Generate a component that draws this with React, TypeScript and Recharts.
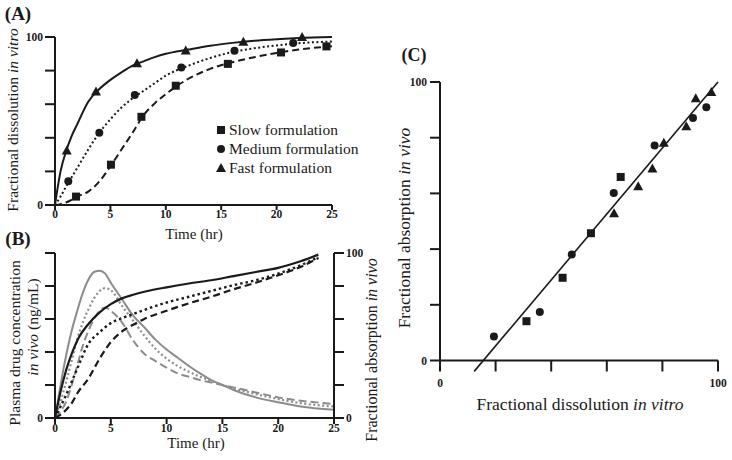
import React from 'react';
import {
  ComposedChart, ScatterChart, Line, Scatter, XAxis, YAxis, ReferenceLine,
} from 'recharts';

const SERIF = '"Liberation Serif", "Times New Roman", serif';
const INK = '#1a1a1a';
const GREY = '#8c8c8c';

// ---- panel A : in vitro dissolution ----
const A_TICKS_X = [0, 5, 10, 15, 20, 25];
const A_TICKS_Y = [0, 20, 40, 60, 80, 100];

const slowT = [1.9, 5.05, 7.8, 10.9, 15.6, 20.4, 24.5];
const slowV = [5, 24, 52.5, 71, 84, 90.8, 94.4];
const mediumT = [1.2, 4.0, 7.2, 11.4, 16.2, 21.5];
const mediumV = [14.2, 43, 65.5, 81.8, 91.8, 96.4];
const fastT = [1.06, 3.7, 7.4, 11.8, 17.0, 22.3];
const fastV = [32.5, 67.5, 84.4, 92, 97.2, 100];

const curveT_A = [0, 0.5, 1, 1.5, 2, 3, 4, 5, 6, 7, 8, 9, 10, 12, 14, 16, 18, 20, 22, 25];
const fastCurve = [0, 20, 32, 41, 48, 61.5, 69, 74.5, 79, 83, 85.5, 88, 90, 92.5, 94.8, 96.5, 97.8, 98.7, 99.4, 100];
const mediumCurve = [0, 5, 11, 16.5, 22, 33, 43, 51, 58, 63.5, 68, 72.5, 77, 82.8, 87.5, 91, 93.3, 95, 96.3, 97.3];
const slowCurve = [0, 0.5, 1.5, 3, 5, 8, 14, 23, 33, 43, 53.5, 60.5, 66, 75, 81, 85, 88, 90.5, 92.5, 94.5];

// ---- panel B : plasma concentration (grey, left) and absorption (black, right) ----
const B_TICKS_X = [0, 5, 10, 15, 20, 25];
const B_TICKS_Y = [0, 20, 40, 60, 80, 100];

const plasmaT = [0, 0.5, 1, 1.5, 2, 2.5, 3, 3.5, 4, 4.5, 5, 6, 7, 8, 9, 10, 11, 12, 13, 14, 15, 16, 18, 20, 22, 25];
const plasmaFast = [0, 20, 38, 53, 65, 76, 84, 88.5, 89.3, 87.5, 82, 72, 62, 55, 47.5, 41.5, 36.5, 31.5, 27, 23, 20, 17, 12.5, 9.5, 7, 5];
const plasmaMedium = [0, 10, 22, 35, 48, 58, 66, 72.5, 77, 78.7, 77.5, 68, 59, 50, 42, 36, 31.5, 28, 25, 22.5, 20, 18, 14.5, 11.5, 9, 7];
const plasmaSlow = [0, 4, 10, 20, 32, 44, 53, 60, 65, 67, 65, 58, 47, 39, 34.5, 30.5, 27, 25, 23, 21.5, 20, 18.5, 15.5, 12.5, 10.5, 8.5];

const absT = [0, 0.5, 1, 1.5, 2, 3, 4, 5, 6, 7, 8, 10, 12, 14, 16, 18, 20, 22, 23.6];
const absFast = [0, 16, 29, 39, 47, 57, 64, 69, 72.5, 74.7, 76.5, 79.2, 81.5, 83.5, 86, 88.5, 91, 95, 99];
const absMedium = [0, 7, 14, 22, 30, 45, 52, 57.5, 60.5, 63, 65.5, 70, 73.5, 77, 80.5, 83.5, 87.5, 92.5, 97.5];
const absSlow = [0, 2, 5, 9, 15, 24, 36, 46, 52.5, 56.5, 60, 65, 69.5, 73.5, 78, 82, 86.5, 91.5, 97];

// ---- panel C : IVIVC ----
const C_TICKS = [0, 20, 40, 60, 80, 100];
const cSlowX = [31.1, 44.1, 54.3, 65];
const cSlowY = [14.1, 29.7, 45.7, 65.9];
const cMediumX = [19.4, 35.9, 47.4, 62.5, 77.2, 91, 95.8];
const cMediumY = [8.6, 17.4, 38.1, 60.1, 77.2, 87.1, 90.9];
const cFastX = [62.6, 71.3, 76.4, 80.5, 88.6, 92, 97.6];
const cFastY = [52.9, 62.6, 68.9, 78.2, 84.1, 94.2, 96.4];
const fitStart = { x: 12.3, y: -3.9 };
const fitEnd = { x: 100, y: 100 };

const zipTV = (t: number[], v: number[]) => t.map((x, i) => ({ t: x, v: v[i] }));
const zipXY = (x: number[], y: number[]) => x.map((a, i) => ({ x: a, y: y[i] }));

const Square = (p: any) => <rect x={p.cx - 4} y={p.cy - 4} width={8} height={8} fill={INK} />;
const Dot = (p: any) => <circle cx={p.cx} cy={p.cy} r={4} fill={INK} />;
const Tri = (p: any) => (
  <path d={`M${p.cx},${p.cy - 5} L${p.cx + 5},${p.cy + 4} L${p.cx - 5},${p.cy + 4} Z`} fill={INK} />
);

const tickFont = { fontSize: 11.5, fontWeight: 700, fill: INK, fontFamily: SERIF };
const axisLine = { stroke: INK, strokeWidth: 2 };
const only = (...keep: number[]) => (v: number) => (keep.includes(v) ? String(v) : '');

function Txt({ x, y, size, rotate, bold, children }: any) {
  return (
    <div style={{
      position: 'absolute', left: x, top: y,
      transform: `translate(-50%, -50%)${rotate ? ' rotate(-90deg)' : ''}`,
      fontFamily: SERIF, fontSize: size, fontWeight: bold ? 700 : 400,
      whiteSpace: 'nowrap', color: INK, lineHeight: 1,
    }}>
      {children}
    </div>
  );
}

function LegendRow({ y, shape, label }: { y: number; shape: string; label: string }) {
  return (
    <div style={{ position: 'absolute', left: 216, top: y - 9, height: 18, display: 'flex', alignItems: 'center' }}>
      <svg width={10} height={10} style={{ marginRight: 3 }}>
        {shape === 'square' && <rect x={1} y={1} width={8} height={8} fill={INK} />}
        {shape === 'circle' && <circle cx={5} cy={5} r={4} fill={INK} />}
        {shape === 'triangle' && <path d="M5,0 L10,9 L0,9 Z" fill={INK} />}
      </svg>
      <span style={{ fontFamily: SERIF, fontSize: 15.5, color: INK }}>{label}</span>
    </div>
  );
}

export default function App() {
  return (
    <div style={{ position: 'absolute', left: 0, top: 0, width: 732, height: 460, background: '#fff', overflow: 'hidden', fontFamily: SERIF }}>
      {/* (A) */}
      <div style={{ position: 'absolute', left: 0, top: 0 }}>
        <ComposedChart width={345} height={235} margin={{ top: 37, right: 13, bottom: 10, left: 25 }} style={{ fontFamily: SERIF }}>
          <XAxis dataKey="t" type="number" domain={[0, 25]} ticks={A_TICKS_X}
            tick={tickFont} axisLine={axisLine} tickLine={axisLine} tickSize={5} tickMargin={0} height={20} />
          <YAxis dataKey="v" type="number" domain={[0, 100]} ticks={A_TICKS_Y} tickFormatter={only(0, 100)}
            tick={tickFont} axisLine={axisLine} tickLine={axisLine} tickSize={10} tickMargin={2} width={30} />
          <Line data={zipTV(curveT_A, fastCurve)} dataKey="v" type="monotone" stroke={INK} strokeWidth={2} dot={false} isAnimationActive={false} />
          <Line data={zipTV(curveT_A, mediumCurve)} dataKey="v" type="monotone" stroke={INK} strokeWidth={2} strokeDasharray="2 2.5" dot={false} isAnimationActive={false} />
          <Line data={zipTV(curveT_A, slowCurve)} dataKey="v" type="monotone" stroke={INK} strokeWidth={2} strokeDasharray="7 4" dot={false} isAnimationActive={false} />
          <Scatter data={zipTV(slowT, slowV)} shape={Square} isAnimationActive={false} />
          <Scatter data={zipTV(mediumT, mediumV)} shape={Dot} isAnimationActive={false} />
          <Scatter data={zipTV(fastT, fastV)} shape={Tri} isAnimationActive={false} />
        </ComposedChart>
      </div>
      <Txt x={18} y={13} size={19} bold>(A)</Txt>
      <Txt x={13} y={120} size={15.5} rotate>Fractional dissolution <i>in vitro</i></Txt>
      <Txt x={194} y={234} size={15}>Time (hr)</Txt>
      <LegendRow y={130} shape="square" label="Slow formulation" />
      <LegendRow y={149} shape="circle" label="Medium formulation" />
      <LegendRow y={168} shape="triangle" label="Fast formulation" />

      {/* (B) */}
      <div style={{ position: 'absolute', left: 0, top: 235 }}>
        <ComposedChart width={380} height={225} margin={{ top: 18, right: 16, bottom: 22, left: 25 }} style={{ fontFamily: SERIF }}>
          <XAxis dataKey="t" type="number" domain={[0, 25]} ticks={B_TICKS_X}
            tick={tickFont} axisLine={axisLine} tickLine={axisLine} tickSize={6} tickMargin={0} height={20} />
          <YAxis yAxisId="left" dataKey="v" type="number" domain={[0, 100]} ticks={B_TICKS_Y} tickFormatter={only(0)}
            tick={tickFont} axisLine={axisLine} tickLine={axisLine} tickSize={10} tickMargin={2} width={30} />
          <YAxis yAxisId="right" orientation="right" dataKey="v" type="number" domain={[0, 100]} ticks={B_TICKS_Y} tickFormatter={only(0, 100)}
            tick={{ ...tickFont, textAnchor: 'start' }} axisLine={axisLine} tickLine={axisLine} tickSize={10} tickMargin={2} width={30} />
          <Line yAxisId="left" data={zipTV(plasmaT, plasmaFast)} dataKey="v" type="monotone" stroke={GREY} strokeWidth={2} dot={false} isAnimationActive={false} />
          <Line yAxisId="left" data={zipTV(plasmaT, plasmaMedium)} dataKey="v" type="monotone" stroke={GREY} strokeWidth={2.2} strokeDasharray="2 2.5" dot={false} isAnimationActive={false} />
          <Line yAxisId="left" data={zipTV(plasmaT, plasmaSlow)} dataKey="v" type="monotone" stroke={GREY} strokeWidth={2} strokeDasharray="8 4" dot={false} isAnimationActive={false} />
          <Line yAxisId="right" data={zipTV(absT, absFast)} dataKey="v" type="monotone" stroke={INK} strokeWidth={2.2} dot={false} isAnimationActive={false} />
          <Line yAxisId="right" data={zipTV(absT, absMedium)} dataKey="v" type="monotone" stroke={INK} strokeWidth={2.4} strokeDasharray="2.5 3" dot={false} isAnimationActive={false} />
          <Line yAxisId="right" data={zipTV(absT, absSlow)} dataKey="v" type="monotone" stroke={INK} strokeWidth={2.2} strokeDasharray="7 4" dot={false} isAnimationActive={false} />
        </ComposedChart>
      </div>
      <Txt x={18} y={238} size={19} bold>(B)</Txt>
      <Txt x={15} y={343} size={15.5} rotate>Plasma drug concentration</Txt>
      <Txt x={33} y={327} size={15.5} rotate><i>in vivo</i> (ng/mL)</Txt>
      <Txt x={372} y={350} size={16} rotate>Fractional absorption <i>in vivo</i></Txt>
      <Txt x={196} y={443} size={15}>Time (hr)</Txt>

      {/* (C) */}
      <div style={{ position: 'absolute', left: 380, top: 30 }}>
        <ScatterChart width={352} height={380} margin={{ top: 52, right: 14, bottom: 19.5, left: 20 }} style={{ fontFamily: SERIF }}>
          <XAxis dataKey="x" type="number" domain={[0, 100]} ticks={C_TICKS} tickFormatter={only(0, 100)}
            tick={tickFont} axisLine={axisLine} tickLine={axisLine} tickSize={11} tickMargin={7} height={30} />
          <YAxis dataKey="y" type="number" domain={[0, 100]} ticks={C_TICKS} tickFormatter={only(0, 100)}
            tick={tickFont} axisLine={axisLine} tickLine={axisLine} tickSize={10} tickMargin={3} width={40} />
          <ReferenceLine segment={[fitStart, fitEnd]} ifOverflow="visible" stroke={INK} strokeWidth={1.6} />
          <Scatter data={zipXY(cSlowX, cSlowY)} shape={Square} isAnimationActive={false} />
          <Scatter data={zipXY(cMediumX, cMediumY)} shape={Dot} isAnimationActive={false} />
          <Scatter data={zipXY(cFastX, cFastY)} shape={Tri} isAnimationActive={false} />
        </ScatterChart>
      </div>
      <Txt x={414} y={55} size={18} bold>(C)</Txt>
      <Txt x={405} y={228} size={17.5} rotate>Fractional absorption <i>in vivo</i></Txt>
      <Txt x={580} y={405} size={17.5}>Fractional dissolution <i>in vitro</i></Txt>
    </div>
  );
}
